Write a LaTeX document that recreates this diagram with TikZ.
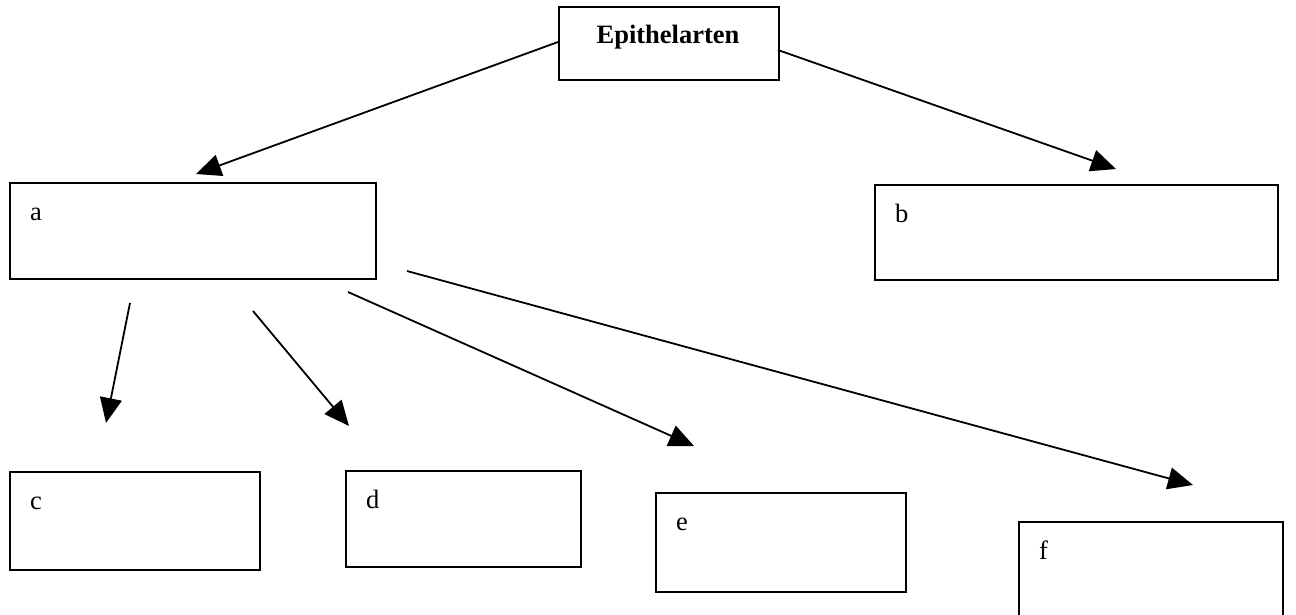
\documentclass[tikz,border=0pt]{standalone}
\usepackage{fontspec}
\setmainfont{Liberation Serif}
\usetikzlibrary{arrows.meta,calc}
\begin{document}
\begin{tikzpicture}[x=1pt,y=-1pt,
  box/.style={draw, line width=1.8pt, inner sep=0pt, anchor=north west},
  lbl/.style={anchor=base west, inner sep=0pt, font=\fontsize{26.5}{30}\selectfont},
  arr/.style={line width=1.8pt, -{Triangle[length=25pt,width=22pt]}}]
\useasboundingbox[fill=white] (0,0) rectangle (1296,614);
% boxes
\node[box, minimum width=220pt, minimum height=73pt] (top) at (558,6) {};
\node[anchor=base, inner sep=0pt, font=\fontsize{26.5}{30}\selectfont\bfseries] (toptxt) at (668,43) {Epithelarten};
\node[box, minimum width=366pt, minimum height=96pt] (a) at (9,182) {};
\node[box, minimum width=403pt, minimum height=95pt] (b) at (874,184) {};
\node[box, minimum width=250pt, minimum height=98pt] (c) at (9,471) {};
\node[box, minimum width=235pt, minimum height=96pt] (d) at (345,470) {};
\node[box, minimum width=250pt, minimum height=99pt] (e) at (655,492) {};
\node[box, minimum width=264pt, minimum height=100pt] (f) at (1018,521) {};
% labels
\node[lbl] (la) at ($(a.north west)+(21,38)$) {a};
\node[lbl] (lb) at ($(b.north west)+(21,38)$) {b};
\node[lbl] (lc) at ($(c.north west)+(21,38)$) {c};
\node[lbl] (ld) at ($(d.north west)+(21,38)$) {d};
\node[lbl] (le) at ($(e.north west)+(21,38)$) {e};
\node[lbl] (lf) at ($(f.north west)+(21,38)$) {f};
% arrow endpoints
\coordinate (s1) at (558,42);  \coordinate (t1) at (196,174);
\coordinate (s2) at (778,50);  \coordinate (t2) at (1116,169);
\coordinate (s3) at (130,303); \coordinate (t3) at (106,423);
\coordinate (s4) at (253,311); \coordinate (t4) at (349,426);
\coordinate (s5) at (348,292); \coordinate (t5) at (694,446);
\coordinate (s6) at (407,271); \coordinate (t6) at (1193,485);
\draw[arr] (s1) -- (t1);
\draw[arr] (s2) -- (t2);
\draw[arr] (s3) -- (t3);
\draw[arr] (s4) -- (t4);
\draw[arr] (s5) -- (t5);
\draw[arr] (s6) -- (t6);
\end{tikzpicture}
\end{document}
